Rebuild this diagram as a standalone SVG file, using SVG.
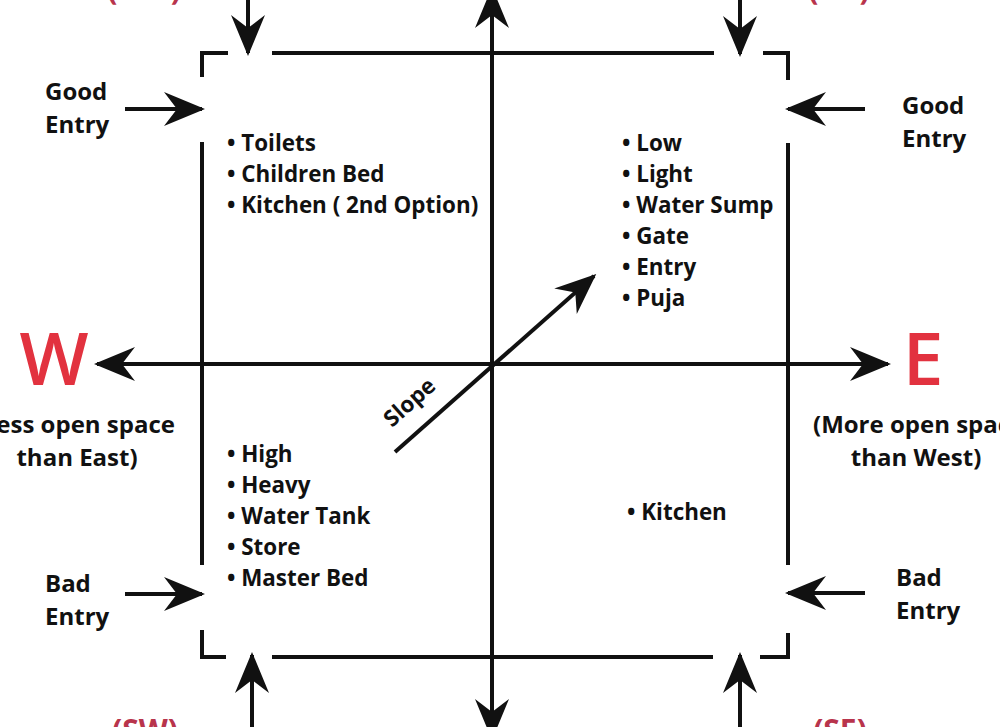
<svg xmlns="http://www.w3.org/2000/svg" width="1000" height="727" viewBox="0 0 1000 727">
<style>
.t{font-family:"Open Sans","Noto Sans","Liberation Sans",sans-serif;font-weight:700;fill:#111;}
.lbl{font-size:24px;}
.li{font-size:22.4px;}
.dir{font-family:"Open Sans","Noto Sans","Liberation Sans",sans-serif;font-weight:600;fill:#e2323f;font-size:73px;}
.q{font-family:"Open Sans","Noto Sans","Liberation Sans",sans-serif;font-weight:700;fill:#b8344c;font-size:30px;}
.frame{stroke:#111;stroke-width:4;fill:none;stroke-linecap:butt;}
.arr{stroke:#111;stroke-width:4;fill:none;marker-end:url(#ah);}
</style>
<defs>
<marker id="ah" markerUnits="userSpaceOnUse" viewBox="-42 -20 46 40" refX="0" refY="0" markerWidth="46" markerHeight="40" orient="auto">
<path d="M3,0 L-38,-17 L-25,0 L-38,17 Z" fill="#111"/>
</marker>
</defs>
<rect width="1000" height="727" fill="#fff"/>

<g id="frame">
<path class="frame" d="M202,77 V53 H228 M272,53 H714 M763,53 H788 V80 M202,142 V565 M788,143 V565 M202,630 V657 H226 M272,657 H713 M760,657 H788 V633"/>
</g>

<g id="connectors">
<line class="arr" x1="492" y1="364" x2="492" y2="-10"/>
<line class="arr" x1="492" y1="364" x2="492" y2="737"/>
<line class="arr" x1="492" y1="364" x2="97" y2="364"/>
<line class="arr" x1="492" y1="364" x2="888" y2="364"/>
<line class="arr" x1="248" y1="0" x2="248" y2="53"/>
<line class="arr" x1="740" y1="0" x2="740" y2="54"/>
<line class="arr" x1="252" y1="727" x2="252" y2="655"/>
<line class="arr" x1="740" y1="727" x2="740" y2="655"/>
<line class="arr" x1="125" y1="109" x2="202" y2="109"/>
<line class="arr" x1="865" y1="109" x2="788" y2="109"/>
<line class="arr" x1="125" y1="594" x2="202" y2="594"/>
<line class="arr" x1="865" y1="593" x2="788" y2="593"/>
<line class="arr" x1="395" y1="452" x2="594" y2="276"/>
</g>

<g id="corner-labels">
<text class="q" x="144" y="0" text-anchor="middle">(NW)</text>
<text class="q" x="839" y="0" text-anchor="middle">(NE)</text>
<text class="q" x="145" y="741" text-anchor="middle">(SW)</text>
<text class="q" x="840" y="741" text-anchor="middle">(SE)</text>
</g>

<g id="west">
<text class="dir" x="54" y="385" text-anchor="middle">W</text>
<text class="t lbl" x="175" y="433" text-anchor="end">(Less open space</text>
<text class="t lbl" x="77" y="466" text-anchor="middle">than East)</text>
</g>

<g id="east">
<text class="dir" x="923" y="385" text-anchor="middle">E</text>
<text class="t lbl" x="813" y="433">(More open space</text>
<text class="t lbl" x="916" y="466" text-anchor="middle">than West)</text>
</g>

<g id="good-entry-left">
<text class="t lbl" x="45" y="100">Good</text>
<text class="t lbl" x="45" y="133">Entry</text>
</g>
<g id="good-entry-right">
<text class="t lbl" x="902" y="114">Good</text>
<text class="t lbl" x="902" y="147">Entry</text>
</g>
<g id="bad-entry-left">
<text class="t lbl" x="45" y="592">Bad</text>
<text class="t lbl" x="45" y="625">Entry</text>
</g>
<g id="bad-entry-right">
<text class="t lbl" x="896" y="586">Bad</text>
<text class="t lbl" x="896" y="619">Entry</text>
</g>

<g id="nw-list" class="t li">
<text x="227" y="151">• Toilets</text>
<text x="227" y="182">• Children Bed</text>
<text x="227" y="213">• Kitchen ( 2nd Option)</text>
</g>

<g id="ne-list" class="t li">
<text x="622" y="151">• Low</text>
<text x="622" y="182">• Light</text>
<text x="622" y="213">• Water Sump</text>
<text x="622" y="244">• Gate</text>
<text x="622" y="275">• Entry</text>
<text x="622" y="306">• Puja</text>
</g>

<g id="sw-list" class="t li">
<text x="227" y="462">• High</text>
<text x="227" y="493">• Heavy</text>
<text x="227" y="524">• Water Tank</text>
<text x="227" y="555">• Store</text>
<text x="227" y="586">• Master Bed</text>
</g>

<g id="se-list" class="t li">
<text x="627" y="520">• Kitchen</text>
</g>

<g id="slope">
<text class="t li" x="0" y="0" transform="translate(392,428) rotate(-41.6)">Slope</text>
</g>
</svg>
